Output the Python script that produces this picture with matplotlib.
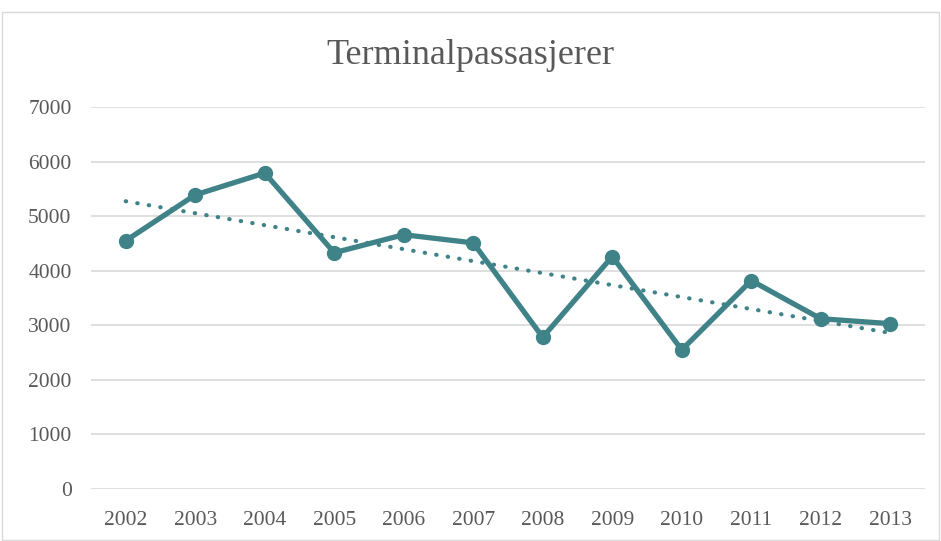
import numpy as np
import matplotlib
matplotlib.use("Agg")
import matplotlib.pyplot as plt
from matplotlib.patches import Rectangle

# Data
years = ["2002", "2003", "2004", "2005", "2006", "2007",
         "2008", "2009", "2010", "2011", "2012", "2013"]
passengers = [4550, 5390, 5790, 4330, 4660, 4510,
              2780, 4260, 2550, 3820, 3120, 3030]

teal = "#3F8388"
grid_col = "#D9D9D9"
text_col = "#595959"

plt.rcParams["font.family"] = ["Liberation Serif", "DejaVu Serif"]

fig = plt.figure(figsize=(9.41, 5.41), dpi=100)
ax = fig.add_axes([91 / 941, 1 - 489 / 541, (925 - 91) / 941, (489 - 107) / 541])

x = np.arange(len(years))
ax.plot(x, passengers, color=teal, linewidth=3.8, marker="o",
        markersize=10, solid_joinstyle="round", zorder=3)

# linear trendline (same as Excel's)
k, m = np.polyfit(x, passengers, 1)
ax.plot(x, k * x + m, color=teal, linewidth=3, linestyle=(0, (0.1, 2.7)),
        dash_capstyle="round", zorder=2)

ax.set_xlim(-0.5, len(years) - 0.5)
ax.set_ylim(0, 7000)
ax.set_yticks(range(0, 7001, 1000))
ax.set_xticks(x)
ax.set_xticklabels(years)
ax.grid(axis="y", color=grid_col, linewidth=1.2)
ax.set_axisbelow(True)
for s in ax.spines.values():
    s.set_visible(False)
ax.tick_params(length=0, labelsize=15.5, labelcolor=text_col)
ax.tick_params(axis="x", pad=16)
ax.tick_params(axis="y", pad=14)

fig.text(0.5, 1 - 55 / 541, "Terminalpassasjerer", ha="center", va="center",
         fontsize=26, color=text_col)

fig.patches.append(Rectangle((0.002, 0.002), 0.996, 0.975, transform=fig.transFigure,
                             fill=False, edgecolor=grid_col, linewidth=1))

fig.savefig("out.png", dpi=100)
